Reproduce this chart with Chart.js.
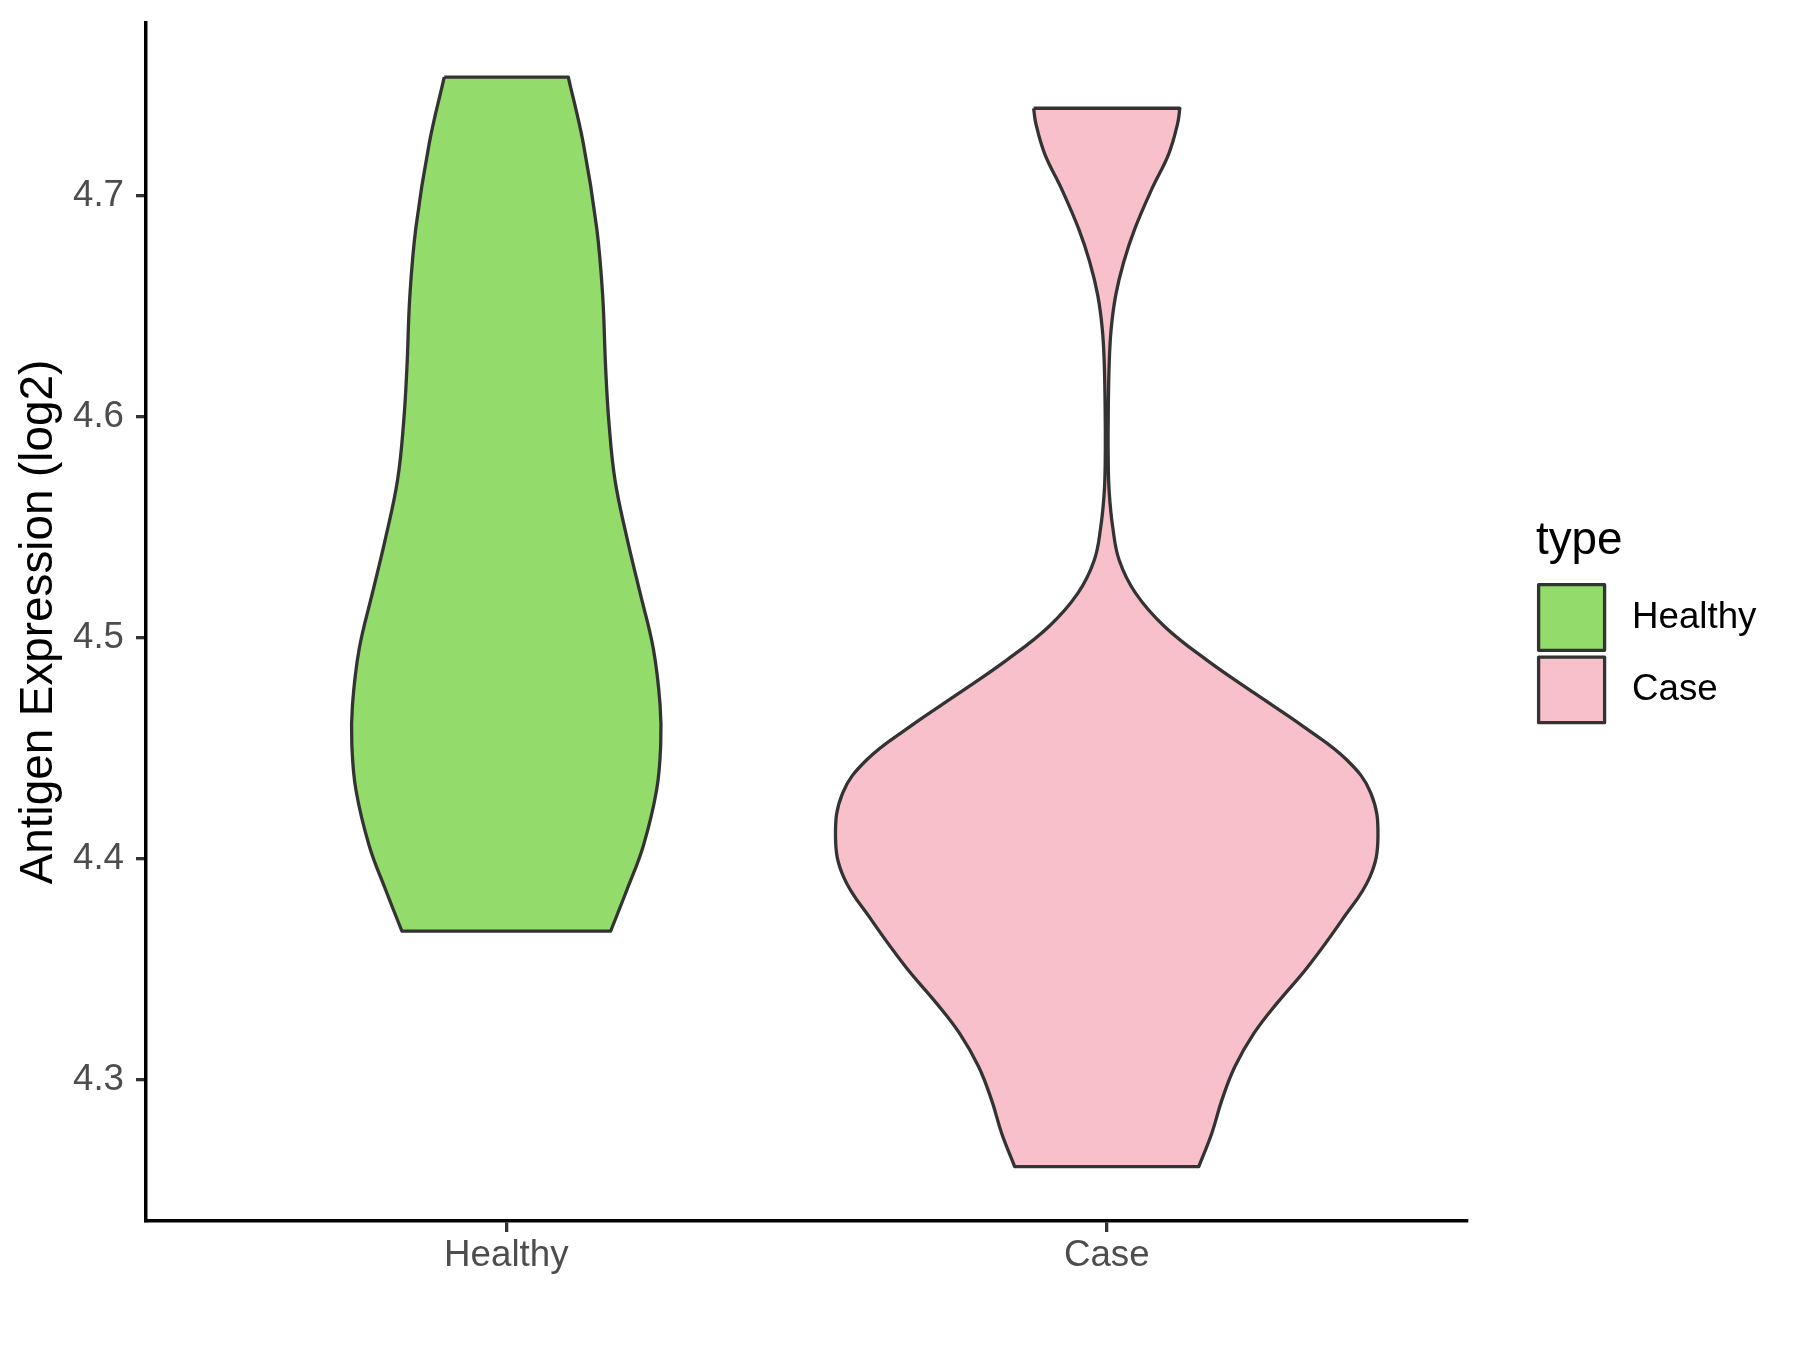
<!DOCTYPE html>
<html>
<head>
<meta charset="utf-8">
<title>Antigen Expression violin</title>
<script src="https://cdn.jsdelivr.net/npm/chart.js@4.4.1/dist/chart.umd.min.js"></script>
<style>
  html, body { margin: 0; padding: 0; background: #ffffff; }
  #wrap { width: 1800px; height: 1350px; }
</style>
</head>
<body>
<div id="wrap"><canvas id="violin" width="1800" height="1350"></canvas></div>
<script>
// categories and legend
const categories = ["Healthy", "Case"];
const fillColors = ["#93DB6B", "#F7C0CA"];
const legendTitle = "type";

// y axis
const yTicks = [4.3, 4.4, 4.5, 4.6, 4.7];
const yRange = [4.2359, 4.7782];
const xRange = [0.4, 2.6];

// density outline: value (log2) and half width (in category units)
const healthyValues = [4.7537, 4.7237, 4.6856, 4.655, 4.622, 4.5966, 4.5711, 4.5457,
  4.5203, 4.4948, 4.4694, 4.4516, 4.4312, 4.4058, 4.3855, 4.3671];
const healthyHalfWidth = [0.1033, 0.1283, 0.1505, 0.1605, 0.1655, 0.1712, 0.1812, 0.2005,
  0.2228, 0.245, 0.2562, 0.2572, 0.2505, 0.2283, 0.2005, 0.1738];

const caseValues = [4.7396, 4.733, 4.719, 4.703, 4.685, 4.67, 4.655, 4.64, 4.625, 4.6,
  4.58, 4.5655, 4.55, 4.535, 4.52, 4.5049, 4.4898, 4.4747, 4.4596, 4.4446, 4.4295,
  4.4098, 4.3917, 4.3721, 4.351, 4.3344, 4.3208, 4.3057, 4.2906, 4.2756, 4.2605];
const caseHalfWidth = [0.1217, 0.1183, 0.1033, 0.075, 0.0467, 0.0283, 0.015, 0.0075, 0.0042, 0.0025,
  0.0025, 0.0042, 0.01, 0.0208, 0.0483, 0.0967, 0.1667, 0.2467, 0.3283, 0.4, 0.44,
  0.4517, 0.4383, 0.3917, 0.335, 0.2833, 0.245, 0.2133, 0.1917, 0.175, 0.1533];

const FONT = "'Liberation Sans', Arial, Helvetica, sans-serif";
const OUTLINE = "#333333";
const LINE_W = 3.3;

// closed outline: left side down, right side up; corners doubled so the flat ends stay straight
function violinPoints(center, values, half) {
  const left = values.map((v, i) => ({ x: center - half[i], y: v }));
  const right = values.map((v, i) => ({ x: center + half[i], y: v })).reverse();
  const pts = [left[0]];
  pts.push(...left);
  pts.push(left[left.length - 1]);
  pts.push(right[0]);
  pts.push(...right);
  pts.push(right[right.length - 1]);
  pts.push(left[0]);
  return pts;
}

function violinDataset(label, center, values, half, color) {
  return {
    label: label,
    data: violinPoints(center, values, half),
    backgroundColor: color,
    borderColor: OUTLINE,
    borderWidth: LINE_W,
    borderJoinStyle: "round",
    fill: "shape",
    tension: 0.4,
    pointRadius: 0,
    pointHoverRadius: 0,
  };
}

// legend on the right, ggplot style
const typeLegend = {
  id: "typeLegend",
  afterDraw(chart) {
    const ctx = chart.ctx;
    ctx.save();
    ctx.fillStyle = "#000000";
    ctx.font = "45.8px " + FONT;
    ctx.textAlign = "left";
    ctx.textBaseline = "alphabetic";
    ctx.fillText(legendTitle, 1536, 554);

    categories.forEach((name, i) => {
      const top = 584.7 + i * 72.4;
      ctx.fillStyle = fillColors[i];
      ctx.strokeStyle = OUTLINE;
      ctx.lineWidth = LINE_W;
      ctx.lineJoin = "round";
      ctx.beginPath();
      ctx.rect(1538.6, top, 66, 65.6);
      ctx.fill();
      ctx.stroke();

      ctx.fillStyle = "#000000";
      ctx.font = "36.7px " + FONT;
      ctx.textBaseline = "middle";
      ctx.fillText(name, 1632, top + 33);
    });
    ctx.restore();
  },
};

Chart.defaults.font.family = FONT;

new Chart(document.getElementById("violin"), {
  type: "line",
  data: {
    datasets: [
      violinDataset(categories[0], 1, healthyValues, healthyHalfWidth, fillColors[0]),
      violinDataset(categories[1], 2, caseValues, caseHalfWidth, fillColors[1]),
    ],
  },
  options: {
    responsive: false,
    devicePixelRatio: 1,
    animation: false,
    events: [],
    layout: { padding: { left: 0, top: 23, right: 333, bottom: 0 } },
    plugins: {
      legend: { display: false },
      tooltip: { enabled: false },
    },
    scales: {
      x: {
        type: "linear",
        min: xRange[0],
        max: xRange[1],
        afterBuildTicks: (scale) => {
          scale.ticks = categories.map((c, i) => ({ value: i + 1 }));
        },
        afterFit: (scale) => {
          scale.height = 129;
          scale.paddingLeft = 0;
          scale.paddingRight = 0;
        },
        ticks: {
          autoSkip: false,
          maxRotation: 0,
          padding: 2,
          color: "#4D4D4D",
          font: { size: 36.7 },
          callback: (value, index) => categories[index],
        },
        grid: {
          drawOnChartArea: false,
          drawTicks: true,
          tickLength: 11,
          color: OUTLINE,
          lineWidth: 3.3,
        },
        border: { display: true, color: "#000000", width: 3.5 },
      },
      y: {
        type: "linear",
        min: yRange[0],
        max: yRange[1],
        afterBuildTicks: (scale) => {
          scale.ticks = yTicks.map((v) => ({ value: v }));
        },
        afterFit: (scale) => {
          scale.width = 146;
          scale.paddingTop = 0;
          scale.paddingBottom = 0;
        },
        ticks: {
          padding: 12,
          color: "#4D4D4D",
          font: { size: 36.7 },
          callback: (value) => Number(value).toFixed(1),
        },
        grid: {
          drawOnChartArea: false,
          drawTicks: true,
          tickLength: 10,
          color: OUTLINE,
          lineWidth: 3.3,
        },
        border: { display: true, color: "#000000", width: 3.5 },
        title: {
          display: true,
          text: "Antigen Expression (log2)",
          color: "#000000",
          font: { size: 45.8, lineHeight: 1 },
          padding: { top: 16.7, bottom: 0 },
        },
      },
    },
  },
  plugins: [typeLegend],
});
</script>
</body>
</html>
